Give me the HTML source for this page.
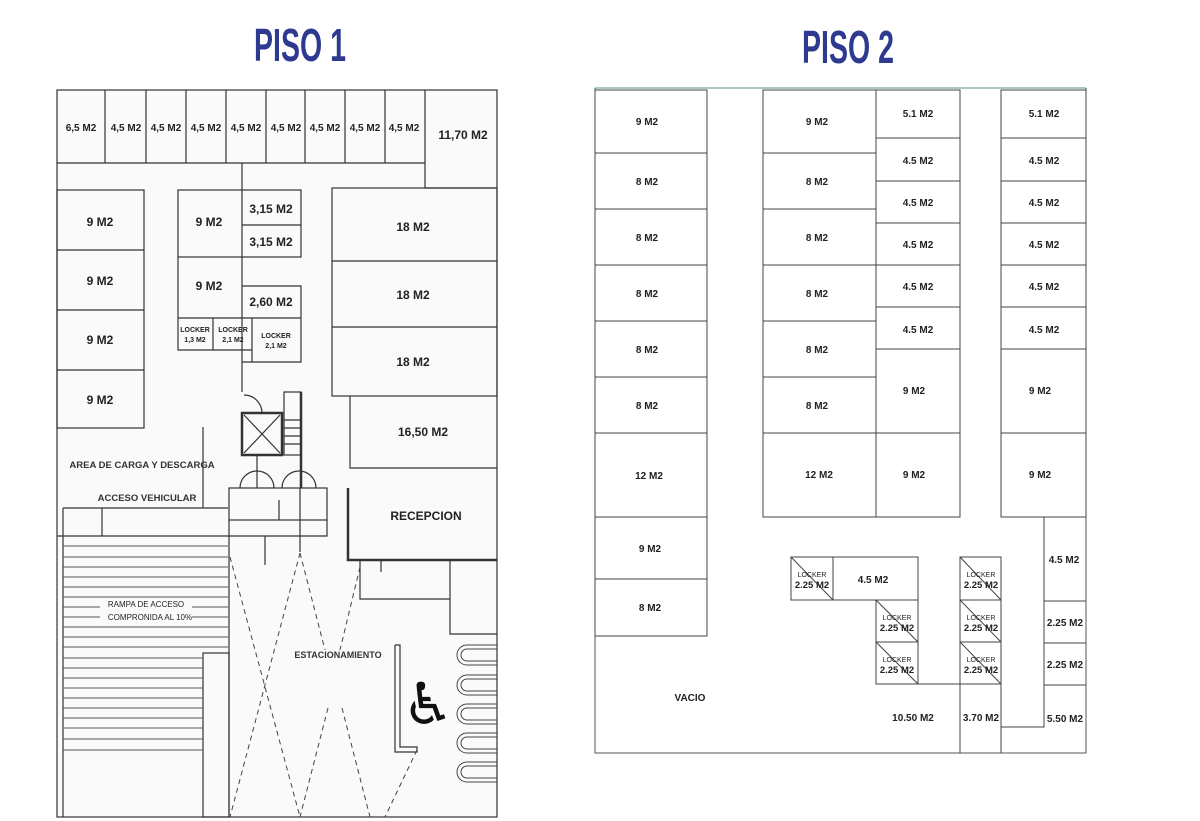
<!DOCTYPE html>
<html><head><meta charset="utf-8"><style>
body{margin:0;background:#fff;width:1200px;height:821px;overflow:hidden}
svg{display:block}
text{font-family:"Liberation Sans",sans-serif;font-weight:bold;fill:#222;text-anchor:middle}
.t1{font-size:12px}
.t2{font-size:10px}
.s{font-size:7px}
</style></head><body>
<svg width="1200" height="821" viewBox="0 0 1200 821">
<g font-family="Liberation Sans" >
<text x="0" y="61" transform="translate(300,0) scale(0.62,1)" style="font-size:46px;fill:#2e3a8f">PISO 1</text>
<text x="0" y="63" transform="translate(848,0) scale(0.62,1)" style="font-size:46px;fill:#2e3a8f">PISO 2</text>
</g>

<!-- PISO 1 -->
<g stroke="#333" stroke-width="1.2" fill="none">
<rect x="57" y="90" width="440" height="727" fill="#fafafa"/>
<line x1="57" y1="163" x2="425" y2="163"/>
<line x1="105" y1="90" x2="105" y2="163"/><line x1="146" y1="90" x2="146" y2="163"/>
<line x1="186" y1="90" x2="186" y2="163"/><line x1="226" y1="90" x2="226" y2="163"/>
<line x1="266" y1="90" x2="266" y2="163"/><line x1="305" y1="90" x2="305" y2="163"/>
<line x1="345" y1="90" x2="345" y2="163"/><line x1="385" y1="90" x2="385" y2="163"/>
<line x1="425" y1="90" x2="425" y2="188"/>
<line x1="425" y1="188" x2="497" y2="188"/>
<rect x="57" y="190" width="87" height="238"/>
<line x1="57" y1="250" x2="144" y2="250"/><line x1="57" y1="310" x2="144" y2="310"/><line x1="57" y1="370" x2="144" y2="370"/>
<line x1="242" y1="163" x2="242" y2="392"/>
<rect x="178" y="190" width="123" height="67"/>
<line x1="242" y1="225" x2="301" y2="225"/>
<polyline points="178,257 178,350 252,350"/>
<polyline points="242,286 301,286 301,362 242,362"/>
<line x1="178" y1="318" x2="301" y2="318"/>
<line x1="213" y1="318" x2="213" y2="350"/><line x1="252" y1="318" x2="252" y2="362"/>
<rect x="332" y="188" width="165" height="208"/>
<line x1="332" y1="261" x2="497" y2="261"/><line x1="332" y1="327" x2="497" y2="327"/>
<polyline points="350,396 350,468 497,468"/>
<rect x="242" y="413" width="40" height="42" stroke-width="2.5"/>
<line x1="244" y1="415" x2="280" y2="453"/><line x1="280" y1="415" x2="244" y2="453"/>
<rect x="284" y="392" width="17" height="63"/>
<line x1="284" y1="420" x2="301" y2="420"/><line x1="284" y1="428" x2="301" y2="428"/><line x1="284" y1="436" x2="301" y2="436"/><line x1="284" y1="444" x2="301" y2="444"/>
<line x1="301" y1="392" x2="301" y2="488" stroke-width="2.5"/>
<path d="M244 395 A18 18 0 0 1 262 413"/>
<line x1="257" y1="455" x2="257" y2="488"/>
<path d="M240 488 A17 17 0 0 1 257 471 M257 471 A17 17 0 0 1 274 488 M282 488 A17 17 0 0 1 299 471 M299 471 A17 17 0 0 1 316 488"/>
<rect x="229" y="488" width="98" height="32"/>
<polyline points="229,520 229,536 327,536 327,520"/>
<line x1="279" y1="500" x2="279" y2="520"/>
<line x1="265" y1="536" x2="265" y2="565"/>
<line x1="300" y1="488" x2="300" y2="552"/>
<line x1="203" y1="427" x2="203" y2="508"/>
<line x1="63" y1="508" x2="228" y2="508"/>
<line x1="102" y1="508" x2="102" y2="536"/>
<line x1="57" y1="536" x2="229" y2="536"/>
<line x1="63" y1="508" x2="63" y2="817"/>
<line x1="229" y1="536" x2="229" y2="817"/>
<rect x="203" y="653" width="26" height="164"/>
<polyline points="348,488 348,560 497,560" stroke-width="2.5"/>
<line x1="381" y1="560" x2="381" y2="572"/>
<polyline points="360,560 360,599 450,599"/>
<polyline points="450,560 450,634 497,634"/>
<polyline points="395,645 400,645 400,747 417,747 417,752 395,752 395,645"/>
</g>
<g stroke="#555" stroke-width="1">
<line x1="63" y1="546" x2="228" y2="546"/><line x1="63" y1="557" x2="228" y2="557"/>
<line x1="63" y1="567" x2="228" y2="567"/><line x1="63" y1="577" x2="228" y2="577"/>
<line x1="63" y1="587" x2="228" y2="587"/><line x1="63" y1="597" x2="228" y2="597"/>
<line x1="63" y1="607" x2="228" y2="607"/><line x1="63" y1="617" x2="228" y2="617"/>
<line x1="63" y1="627" x2="228" y2="627"/><line x1="63" y1="637" x2="228" y2="637"/>
<line x1="63" y1="647" x2="228" y2="647"/><line x1="63" y1="658" x2="203" y2="658"/>
<line x1="63" y1="668" x2="203" y2="668"/><line x1="63" y1="678" x2="203" y2="678"/>
<line x1="63" y1="688" x2="203" y2="688"/><line x1="63" y1="698" x2="203" y2="698"/>
<line x1="63" y1="708" x2="203" y2="708"/><line x1="63" y1="718" x2="203" y2="718"/>
<line x1="63" y1="728" x2="203" y2="728"/><line x1="63" y1="739" x2="203" y2="739"/>
<line x1="63" y1="750" x2="203" y2="750"/>
</g>
<rect x="100" y="598" width="92" height="26" fill="#fafafa"/>
<text class="s" x="146" y="607" style="font-size:8px;font-weight:normal">RAMPA DE ACCESO</text>
<text class="s" x="150" y="620" style="font-size:8px;font-weight:normal">COMPRONIDA AL 10%</text>
<g stroke="#444" stroke-width="1" stroke-dasharray="5,4" fill="none">
<line x1="230" y1="557" x2="300" y2="817"/><line x1="300" y1="553" x2="230" y2="817"/>
<line x1="300" y1="553" x2="325" y2="650"/><line x1="328" y1="708" x2="300" y2="817"/>
<line x1="342" y1="708" x2="370" y2="817"/><line x1="360" y1="567" x2="340" y2="650"/>
<line x1="417" y1="750" x2="385" y2="817"/>
</g>
<g stroke="#444" stroke-width="1" fill="none">
<path d="M497 645 H467 a10 10 0 0 0 0 20 H497 M497 649 H467 a6 6 0 0 0 0 12 H497"/>
<path d="M497 675 H467 a10 10 0 0 0 0 20 H497 M497 679 H467 a6 6 0 0 0 0 12 H497"/>
<path d="M497 704 H467 a10 10 0 0 0 0 20 H497 M497 708 H467 a6 6 0 0 0 0 12 H497"/>
<path d="M497 733 H467 a10 10 0 0 0 0 20 H497 M497 737 H467 a6 6 0 0 0 0 12 H497"/>
<path d="M497 762 H467 a10 10 0 0 0 0 20 H497 M497 766 H467 a6 6 0 0 0 0 12 H497"/>
</g>
<text x="428" y="724" style="font-size:58px;font-family:'DejaVu Sans',sans-serif;font-weight:bold;fill:#111">♿</text>
<g class="t2">
<text class="t2" x="81" y="131">6,5 M2</text><text class="t2" x="126" y="131">4,5 M2</text>
<text class="t2" x="166" y="131">4,5 M2</text><text class="t2" x="206" y="131">4,5 M2</text>
<text class="t2" x="246" y="131">4,5 M2</text><text class="t2" x="286" y="131">4,5 M2</text>
<text class="t2" x="325" y="131">4,5 M2</text><text class="t2" x="365" y="131">4,5 M2</text>
<text class="t2" x="404" y="131">4,5 M2</text><text class="t1" x="463" y="139">11,70 M2</text>
</g>
<text class="t1" x="100" y="226">9 M2</text><text class="t1" x="100" y="285">9 M2</text>
<text class="t1" x="100" y="344">9 M2</text><text class="t1" x="100" y="404">9 M2</text>
<text class="t1" x="209" y="226">9 M2</text><text class="t1" x="209" y="290">9 M2</text>
<text class="t1" x="271" y="213">3,15 M2</text><text class="t1" x="271" y="246">3,15 M2</text>
<text class="t1" x="271" y="306">2,60 M2</text>
<text class="s" x="195" y="332">LOCKER</text><text class="s" x="195" y="342">1,3 M2</text>
<text class="s" x="233" y="332">LOCKER</text><text class="s" x="233" y="342">2,1 M2</text>
<text class="s" x="276" y="338">LOCKER</text><text class="s" x="276" y="348">2,1 M2</text>
<text class="t1" x="413" y="231">18 M2</text><text class="t1" x="413" y="299">18 M2</text>
<text class="t1" x="413" y="366">18 M2</text><text class="t1" x="423" y="436">16,50 M2</text>
<text class="t1" x="426" y="520">RECEPCION</text>
<text style="font-size:9.5px;font-weight:bold;fill:#333" x="142" y="468">AREA DE CARGA Y DESCARGA</text>
<text style="font-size:9.5px;font-weight:bold;fill:#333" x="147" y="501">ACCESO VEHICULAR</text>
<text style="font-size:9px;font-weight:bold;fill:#333" x="338" y="658">ESTACIONAMIENTO</text>

<!-- PISO 2 -->
<g stroke="#444" stroke-width="1" fill="none">
<line x1="595" y1="88" x2="1086" y2="88" stroke="#8fb8a8" stroke-width="1.5"/>
<polyline points="595,88 595,753 1086,753 1086,88" stroke="#555"/>
<rect x="595" y="90" width="112" height="546"/>
<line x1="595" y1="153" x2="707" y2="153"/><line x1="595" y1="209" x2="707" y2="209"/>
<line x1="595" y1="265" x2="707" y2="265"/><line x1="595" y1="321" x2="707" y2="321"/>
<line x1="595" y1="377" x2="707" y2="377"/><line x1="595" y1="433" x2="707" y2="433"/>
<line x1="595" y1="517" x2="707" y2="517"/><line x1="595" y1="579" x2="707" y2="579"/>
<rect x="763" y="90" width="197" height="427"/>
<line x1="876" y1="90" x2="876" y2="517"/>
<line x1="763" y1="153" x2="876" y2="153"/><line x1="763" y1="209" x2="876" y2="209"/>
<line x1="763" y1="265" x2="876" y2="265"/><line x1="763" y1="321" x2="876" y2="321"/>
<line x1="763" y1="377" x2="876" y2="377"/><line x1="763" y1="433" x2="960" y2="433"/>
<line x1="876" y1="138" x2="960" y2="138"/><line x1="876" y1="181" x2="960" y2="181"/>
<line x1="876" y1="223" x2="960" y2="223"/><line x1="876" y1="265" x2="960" y2="265"/>
<line x1="876" y1="307" x2="960" y2="307"/><line x1="876" y1="349" x2="960" y2="349"/>
<rect x="1001" y="90" width="85" height="427"/>
<line x1="1001" y1="138" x2="1086" y2="138"/><line x1="1001" y1="181" x2="1086" y2="181"/>
<line x1="1001" y1="223" x2="1086" y2="223"/><line x1="1001" y1="265" x2="1086" y2="265"/>
<line x1="1001" y1="307" x2="1086" y2="307"/><line x1="1001" y1="349" x2="1086" y2="349"/>
<line x1="1001" y1="433" x2="1086" y2="433"/>
<polyline points="1044,517 1044,727 1001,727 1001,753"/>
<line x1="1044" y1="601" x2="1086" y2="601"/><line x1="1044" y1="643" x2="1086" y2="643"/>
<line x1="1044" y1="685" x2="1086" y2="685"/>
<rect x="791" y="557" width="127" height="43"/><line x1="833" y1="557" x2="833" y2="600"/>
<rect x="876" y="600" width="42" height="84"/><line x1="876" y1="642" x2="918" y2="642"/>
<line x1="918" y1="684" x2="960" y2="684"/>
<rect x="960" y="557" width="41" height="127"/>
<line x1="960" y1="600" x2="1001" y2="600"/><line x1="960" y1="642" x2="1001" y2="642"/>
<line x1="960" y1="684" x2="960" y2="753"/><line x1="1001" y1="684" x2="1001" y2="727"/>
<line x1="791" y1="557" x2="833" y2="600"/>
<line x1="876" y1="600" x2="918" y2="642"/><line x1="876" y1="642" x2="918" y2="684"/>
<line x1="960" y1="557" x2="1001" y2="600"/><line x1="960" y1="600" x2="1001" y2="642"/><line x1="960" y1="642" x2="1001" y2="684"/>
</g>
<g style="font-size:10px">
<text x="647" y="125" style="font-size:10px">9 M2</text><text x="647" y="185" style="font-size:10px">8 M2</text>
<text x="647" y="241" style="font-size:10px">8 M2</text><text x="647" y="297" style="font-size:10px">8 M2</text>
<text x="647" y="353" style="font-size:10px">8 M2</text><text x="647" y="409" style="font-size:10px">8 M2</text>
<text x="649" y="479" style="font-size:10px">12 M2</text><text x="650" y="552" style="font-size:10px">9 M2</text>
<text x="650" y="611" style="font-size:10px">8 M2</text><text x="690" y="701" style="font-size:10px">VACIO</text>
<text x="817" y="125" style="font-size:10px">9 M2</text><text x="817" y="185" style="font-size:10px">8 M2</text>
<text x="817" y="241" style="font-size:10px">8 M2</text><text x="817" y="297" style="font-size:10px">8 M2</text>
<text x="817" y="353" style="font-size:10px">8 M2</text><text x="817" y="409" style="font-size:10px">8 M2</text>
<text x="819" y="478" style="font-size:10px">12 M2</text>
<text x="918" y="117" style="font-size:10px">5.1 M2</text><text x="918" y="164" style="font-size:10px">4.5 M2</text>
<text x="918" y="206" style="font-size:10px">4.5 M2</text><text x="918" y="248" style="font-size:10px">4.5 M2</text>
<text x="918" y="290" style="font-size:10px">4.5 M2</text><text x="918" y="333" style="font-size:10px">4.5 M2</text>
<text x="914" y="394" style="font-size:10px">9 M2</text><text x="914" y="478" style="font-size:10px">9 M2</text>
<text x="1044" y="117" style="font-size:10px">5.1 M2</text><text x="1044" y="164" style="font-size:10px">4.5 M2</text>
<text x="1044" y="206" style="font-size:10px">4.5 M2</text><text x="1044" y="248" style="font-size:10px">4.5 M2</text>
<text x="1044" y="290" style="font-size:10px">4.5 M2</text><text x="1044" y="333" style="font-size:10px">4.5 M2</text>
<text x="1040" y="394" style="font-size:10px">9 M2</text><text x="1040" y="478" style="font-size:10px">9 M2</text>
<text x="1064" y="563" style="font-size:10px">4.5 M2</text><text x="1065" y="626" style="font-size:10px">2.25 M2</text>
<text x="1065" y="668" style="font-size:10px">2.25 M2</text><text x="1065" y="722" style="font-size:10px">5.50 M2</text>
<text x="873" y="583" style="font-size:10px">4.5 M2</text>
<text x="913" y="721" style="font-size:10px">10.50 M2</text><text x="981" y="721" style="font-size:10px">3.70 M2</text>
</g>
<g>
<text x="812" y="577" style="font-size:7px;font-weight:normal">LOCKER</text><text x="812" y="588" style="font-size:9.5px">2.25 M2</text>
<text x="897" y="620" style="font-size:7px;font-weight:normal">LOCKER</text><text x="897" y="631" style="font-size:9.5px">2.25 M2</text>
<text x="897" y="662" style="font-size:7px;font-weight:normal">LOCKER</text><text x="897" y="673" style="font-size:9.5px">2.25 M2</text>
<text x="981" y="577" style="font-size:7px;font-weight:normal">LOCKER</text><text x="981" y="588" style="font-size:9.5px">2.25 M2</text>
<text x="981" y="620" style="font-size:7px;font-weight:normal">LOCKER</text><text x="981" y="631" style="font-size:9.5px">2.25 M2</text>
<text x="981" y="662" style="font-size:7px;font-weight:normal">LOCKER</text><text x="981" y="673" style="font-size:9.5px">2.25 M2</text>
</g>
</svg>
</body></html>
